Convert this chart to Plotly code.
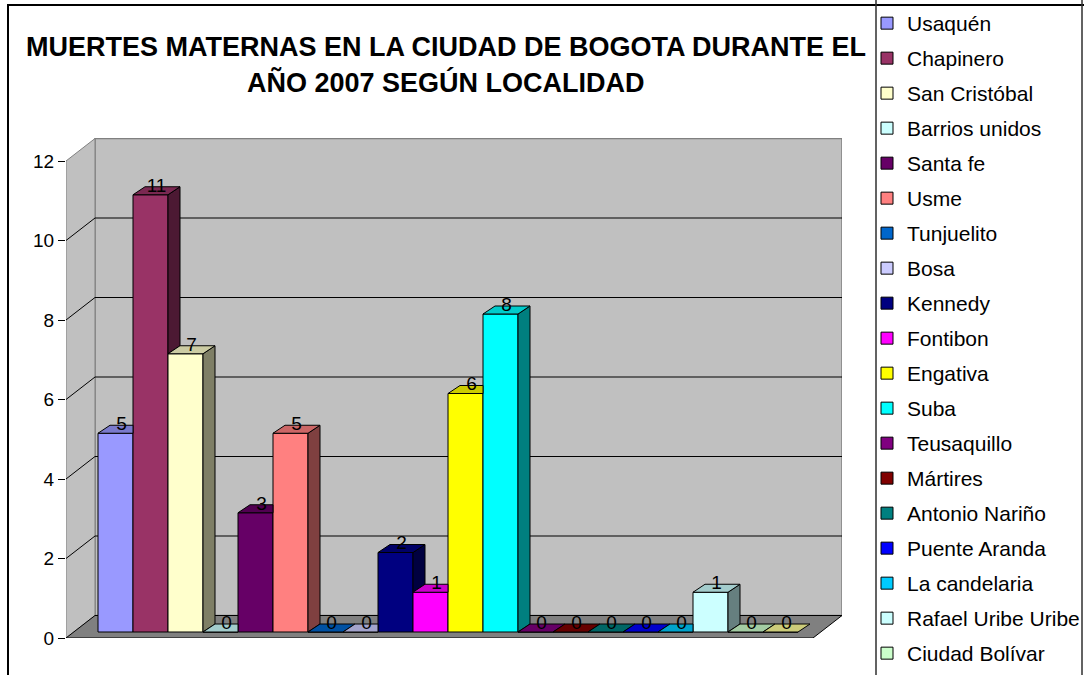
import plotly.graph_objects as go

# ---------------- data ----------------
localidades = ["Usaquén", "Chapinero", "San Cristóbal", "Barrios unidos", "Santa fe",
               "Usme", "Tunjuelito", "Bosa", "Kennedy", "Fontibon", "Engativa", "Suba",
               "Teusaquillo", "Mártires", "Antonio Nariño", "Puente Aranda",
               "La candelaria", "Rafael Uribe Uribe", "Ciudad Bolívar", "Sumapaz"]
muertes = [5, 11, 7, 0, 3, 5, 0, 0, 2, 1, 6, 8, 0, 0, 0, 0, 0, 1, 0, 0]
colores = ["#9999FF", "#993366", "#FFFFCC", "#CCFFFF", "#660066", "#FF8080", "#0066CC",
           "#CCCCFF", "#000080", "#FF00FF", "#FFFF00", "#00FFFF", "#800080", "#800000",
           "#008080", "#0000FF", "#00CCFF", "#CCFFFF", "#CCFFCC", "#FFFF99"]
en_leyenda = [True] * 19 + [False]   # last legend entry is cut off in the original
y_ticks = [0, 2, 4, 6, 8, 10, 12]
titulo_1 = "MUERTES MATERNAS EN LA CIUDAD DE BOGOTA DURANTE EL"
titulo_2 = "AÑO 2007 SEGÚN LOCALIDAD"

# ---------------- geometry (style) ----------------
W, H = 1084, 675
PL, PR, PT, PB = 66, 842, 138, 638          # plot area in px
SX = 35.0                                   # px per category
SY = 39.75                                  # px per unit
BAR0_PX = 115.5                             # centre of first bar front face
BAR_BASE_PX = 632                           # baseline of bar front faces
XMIN = -(BAR0_PX - PL) / SX
XMAX = XMIN + (PR - PL) / SX
YB_MIN = -(PB - BAR_BASE_PX) / SY
YB_MAX = YB_MIN + (PB - PT) / SY
YF_MAX = (PB - PT) / SY
WDX, WDY = 29 / SX, 22.5 / SY               # wall depth
BDX, BDY = 12 / SX, 8 / SY                  # bar depth
XL = XMIN
XR = (813 - BAR0_PX) / SX
FONT = "Arial, Liberation Sans, sans-serif"


def shade(hex_color, f):
    h = hex_color.lstrip("#")
    r, g, b = (int(h[k:k + 2], 16) for k in (0, 2, 4))
    return "#%02X%02X%02X" % (int(r * f), int(g * f), int(b * f))


def px_to_paper_x(px):
    return (px - PL) / (PR - PL)


def px_to_paper_y(py):
    return (PB - py) / (PB - PT)


fig = go.Figure()

# front faces: real bars
for i, (name, v, c, leg) in enumerate(zip(localidades, muertes, colores, en_leyenda)):
    fig.add_trace(go.Bar(
        x=[i], y=[v], width=1, name=name, legendgroup=name, showlegend=leg,
        marker=dict(color=c, line=dict(color="black", width=1)),
        hovertemplate=name + ": %{y}<extra></extra>"))

# depth faces (side and top), painter order left to right
n = len(muertes)
for i, (v, c) in enumerate(zip(muertes, colores)):
    nxt = muertes[i + 1] if i + 1 < n else 0
    if v > nxt:
        xs = [i + 0.5, i + 0.5 + BDX, i + 0.5 + BDX, i + 0.5, i + 0.5]
        ys = [nxt, nxt + BDY, v + BDY, v, nxt]
        fig.add_trace(go.Scatter(x=xs, y=ys, mode="lines", fill="toself",
                                 fillcolor=shade(c, 0.5), line=dict(color="black", width=1),
                                 showlegend=False, hoverinfo="skip"))
    if nxt > v:
        xs = [i - 0.5, i + 0.5, i + 0.5, i - 0.5 + BDX, i - 0.5]
    else:
        xs = [i - 0.5, i + 0.5, i + 0.5 + BDX, i - 0.5 + BDX, i - 0.5]
    ys = [v, v, v + BDY, v + BDY, v]
    fig.add_trace(go.Scatter(x=xs, y=ys, mode="lines", fill="toself",
                             fillcolor=shade(c, 0.8), line=dict(color="black", width=1),
                             showlegend=False, hoverinfo="skip"))

# data labels
fig.add_trace(go.Scatter(
    x=[i + BDX / 2 for i in range(n)], y=[v + BDY for v in muertes],
    text=[str(v) for v in muertes], mode="text", textposition="middle center",
    textfont=dict(family=FONT, size=19, color="black"),
    showlegend=False, hoverinfo="skip"))

# dummy trace for the front-plane value axis
fig.add_trace(go.Scatter(x=[None], y=[None], yaxis="y2", showlegend=False, hoverinfo="skip"))

shapes = []
shapes.append(dict(type="rect", xref="x", yref="y2", layer="below",
                   x0=XL + WDX, x1=XR + WDX, y0=WDY, y1=max(y_ticks) + WDY,
                   fillcolor="#C0C0C0", line=dict(color="#808080", width=1.5)))
shapes.append(dict(type="path", xref="x", yref="y2", layer="below",
                   path=f"M{XL},0 L{XL + WDX},{WDY} L{XL + WDX},{max(y_ticks) + WDY} L{XL},{max(y_ticks)} Z",
                   fillcolor="#C0C0C0", line=dict(color="#808080", width=1)))
for t in y_ticks[1:-1]:
    shapes.append(dict(type="line", xref="x", yref="y2", layer="below",
                       x0=XL + WDX, x1=XR + WDX, y0=t + WDY, y1=t + WDY,
                       line=dict(color="black", width=1)))
    shapes.append(dict(type="line", xref="x", yref="y2", layer="below",
                       x0=XL, x1=XL + WDX, y0=t, y1=t + WDY,
                       line=dict(color="black", width=1)))
shapes.append(dict(type="path", xref="x", yref="y2", layer="below",
                   path=f"M{XL},0 L{XR},0 L{XR + WDX},{WDY} L{XL + WDX},{WDY} Z",
                   fillcolor="#808080", line=dict(color="black", width=1)))
shapes.append(dict(type="rect", xref="paper", yref="paper",
                   x0=px_to_paper_x(8), x1=px_to_paper_x(1100),
                   y0=px_to_paper_y(690), y1=px_to_paper_y(5),
                   line=dict(color="black", width=2), fillcolor="rgba(0,0,0,0)"))
shapes.append(dict(type="rect", xref="paper", yref="paper",
                   x0=px_to_paper_x(876), x1=px_to_paper_x(1082),
                   y0=px_to_paper_y(690), y1=px_to_paper_y(-3),
                   line=dict(color="#303030", width=1.5), fillcolor="rgba(0,0,0,0)"))

annotations = [
    dict(text="<b>" + titulo_1 + "</b>", xref="paper", yref="paper",
         x=px_to_paper_x(446), y=px_to_paper_y(47), xanchor="center", yanchor="middle",
         showarrow=False, font=dict(family=FONT, size=27, color="black")),
    dict(text="<b>" + titulo_2 + "</b>", xref="paper", yref="paper",
         x=px_to_paper_x(446), y=px_to_paper_y(83), xanchor="center", yanchor="middle",
         showarrow=False, font=dict(family=FONT, size=27, color="black")),
]

fig.update_layout(
    width=W, height=H,
    margin=dict(l=PL, r=W - PR, t=PT, b=H - PB, autoexpand=False),
    paper_bgcolor="white", plot_bgcolor="white",
    barmode="overlay",
    showlegend=True,
    xaxis=dict(range=[XMIN, XMAX], visible=False, fixedrange=True),
    yaxis=dict(range=[YB_MIN, YB_MAX], visible=False, fixedrange=True),
    yaxis2=dict(range=[0, YF_MAX], overlaying="y", anchor="x", side="left",
                tickvals=y_ticks, ticks="outside", ticklen=7, tickcolor="black",
                tickwidth=1, showgrid=False, zeroline=False, showline=False,
                tickfont=dict(family=FONT, size=19, color="black"), fixedrange=True),
    legend=dict(xref="container", yref="container", x=867 / W, y=1 - 3 / H,
                xanchor="left", yanchor="top", bgcolor="rgba(0,0,0,0)",
                borderwidth=0, font=dict(family=FONT, size=21, color="black"),
                tracegroupgap=4.7, traceorder="grouped"),
    shapes=shapes, annotations=annotations,
    font=dict(family=FONT, color="black"),
)
try:
    fig.update_layout(legend_maxheight=700)
except Exception:
    pass

fig.write_html("out.html", config={"displayModeBar": False},
               post_script="document.body.style.margin='0';document.body.style.overflow='hidden';")
